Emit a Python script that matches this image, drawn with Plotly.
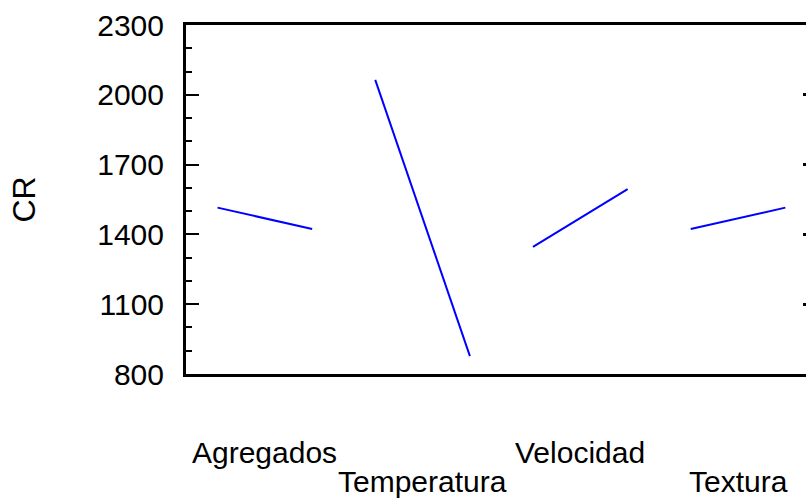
import plotly.graph_objects as go

factors = ["Agregados", "Temperatura", "Velocidad", "Textura"]
low_values = [1515, 2064, 1346, 1423]
high_values = [1423, 877, 1595, 1515]
y_ticks = [800, 1100, 1400, 1700, 2000, 2300]
right_ticks = [1100, 1400, 1700, 2000]
label_rows = [0, 1, 0, 1]

half = 0.3
fig = go.Figure()
for i, name in enumerate(factors):
    fig.add_trace(go.Scatter(
        x=[i - half, i + half], y=[low_values[i], high_values[i]],
        mode="lines", line=dict(color="#0000FF", width=2),
        name=name, showlegend=False, hoverinfo="skip"))

# dummy trace for right-side ticks
fig.add_trace(go.Scatter(x=[None], y=[None], yaxis="y2", showlegend=False))

font_family = "Liberation Sans, Arial, sans-serif"

fig.update_layout(
    width=806, height=501,
    margin=dict(l=186, r=0, t=25, b=127),
    paper_bgcolor="white", plot_bgcolor="white",
    font=dict(family=font_family, color="black"),
    xaxis=dict(range=[-0.5, 3.431], showgrid=False, zeroline=False,
               showticklabels=False, ticks="",
               showline=True, linecolor="black", linewidth=3, mirror=True),
    yaxis=dict(range=[800, 2300], tickvals=y_ticks, showgrid=False, zeroline=False,
               ticks="inside", ticklen=13, tickwidth=2, tickcolor="black",
               minor=dict(dtick=100, ticks="inside", ticklen=6, tickwidth=2, tickcolor="black"),
               showline=True, linecolor="black", linewidth=3,
               tickfont=dict(size=30, family=font_family), ticklabelstandoff=13),
    yaxis2=dict(range=[800, 2300], overlaying="y", side="right", tickvals=right_ticks,
                ticks="inside", ticklen=3, tickwidth=3, tickcolor="black",
                showticklabels=False, showline=False, showgrid=False, zeroline=False),
)

row_y = [-0.2235, -0.308]
for i, name in enumerate(factors):
    fig.add_annotation(x=i, y=row_y[label_rows[i]], xref="x", yref="paper",
                       text=name, showarrow=False, xanchor="center", yanchor="middle",
                       font=dict(size=30, family=font_family, color="black"))

fig.add_annotation(x=(23 - 186) / 620, y=0.5, xref="paper", yref="paper",
                   text="CR", textangle=-90, showarrow=False,
                   xanchor="center", yanchor="middle",
                   font=dict(size=32, family=font_family, color="black"))

fig.write_html("out.html")
